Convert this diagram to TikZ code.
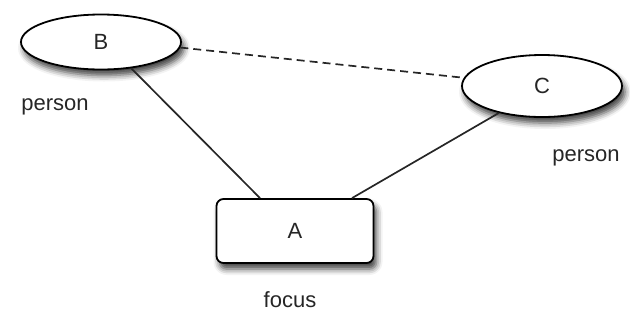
\documentclass[tikz,border=0pt]{standalone}
\usepackage{fontspec}
\setmainfont{Liberation Sans}
\usetikzlibrary{shapes.geometric,shadows.blur,calc}
\begin{document}
\begin{tikzpicture}[x=1pt,y=-1pt,
  every node/.style={font=\fontsize{22}{24}\selectfont, text=black!85},
  shade box/.style={fill=white, draw=black, line width=1.8pt,
    blur shadow={shadow xshift=3pt, shadow yshift=-6pt, shadow blur radius=6pt, shadow opacity=75}},
  personnode/.style={shade box, ellipse, inner sep=0pt},
  focusnode/.style={shade box, rectangle, rounded corners=7pt, inner sep=0pt,
    minimum width=157pt, minimum height=64pt},
  link/.style={line width=1.7pt, black!85},
  tag/.style={inner sep=0pt}
]
\useasboundingbox (0,0) rectangle (630,325);

\node[personnode, minimum width=160pt, minimum height=55pt] (B) at (101,42) {B};
\node[personnode, minimum width=160pt, minimum height=62pt] (C) at (542,86) {C};
\node[focusnode] (A) at (295,231) {A};

\node[tag] (lb) at (55,107) {person};
\node[tag] (lc) at (586,158) {person};
\node[tag] (la) at (290,300) {focus};

\draw[link] (B.-41) -- ([xshift=-35pt]A.north);
\draw[link] (C.-148) -- ([xshift=57pt]A.north);
\draw[link, dash pattern=on 8pt off 5pt] (B.-4) -- (C.174);
\end{tikzpicture}
\end{document}
